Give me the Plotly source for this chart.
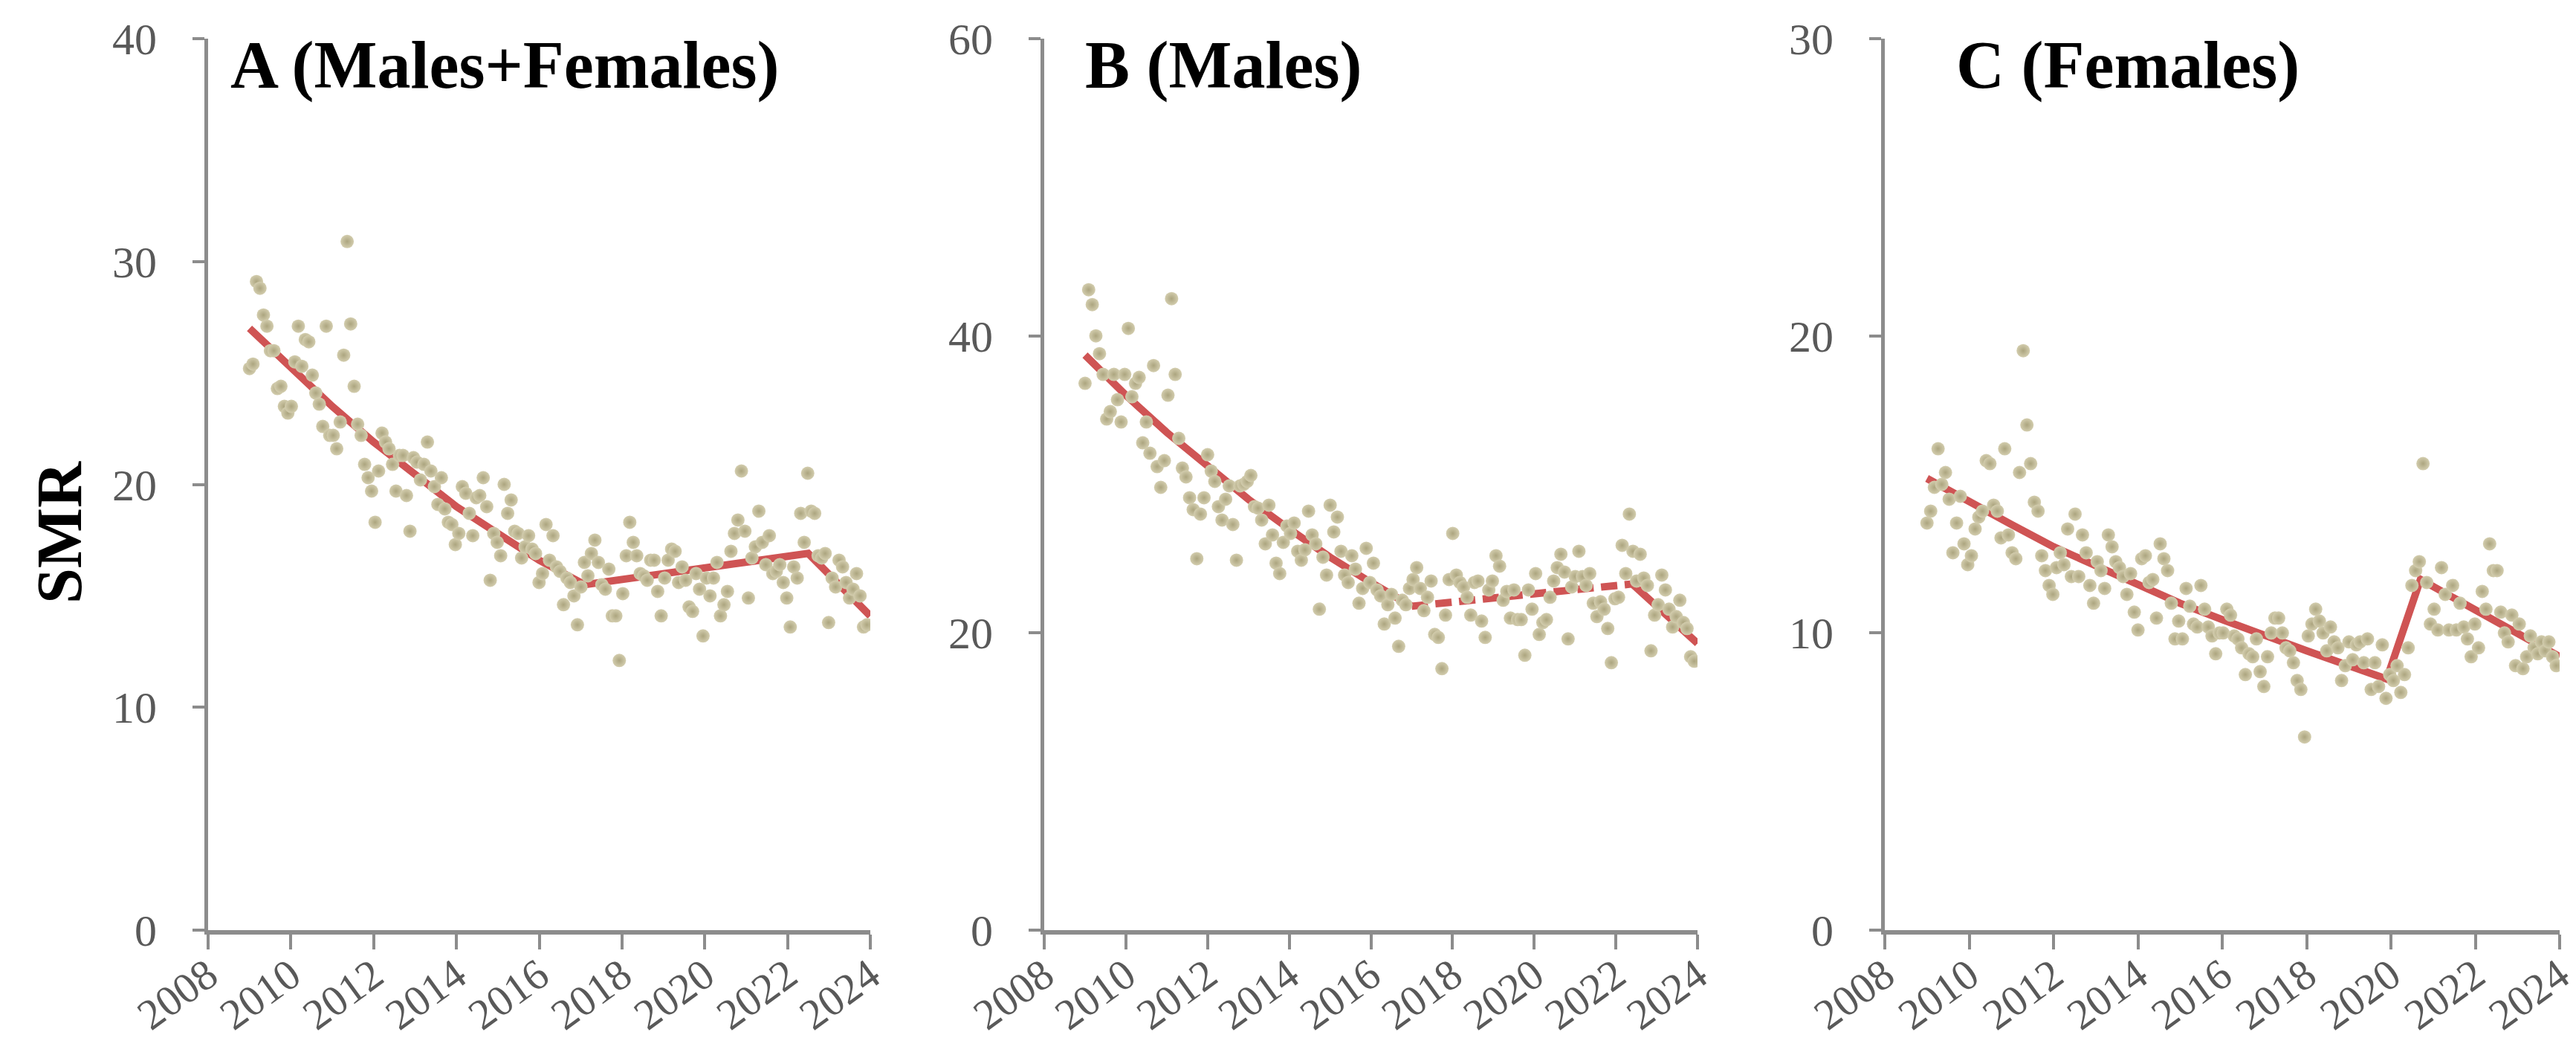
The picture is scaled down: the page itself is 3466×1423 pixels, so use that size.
import numpy as np
import plotly.graph_objects as go

# ---- data (monthly SMR, Jan 2009 - Dec 2023) ----
smr_all = [25.2, 25.4, 29.1, 28.8, 27.6, 27.1, 26.0, 26.0, 24.3, 24.4, 23.5, 23.2, 23.5,
           25.5, 27.1, 25.3, 26.5, 26.4, 24.9, 24.1, 23.6, 22.6, 27.1, 22.2, 22.2, 21.6, 22.8, 25.8,
           30.9, 27.2, 24.4, 22.7, 22.2, 20.9, 20.3, 19.7, 18.3, 20.6, 22.3, 21.9, 21.6, 20.9, 19.7,
           21.3, 21.3, 19.5, 17.9, 21.2, 21.0, 20.2, 20.9, 21.9, 20.6, 19.9, 19.1, 20.3, 18.9, 18.3,
           18.2, 17.3, 17.8, 19.9, 19.6, 18.7, 17.7, 19.4, 19.5, 20.3, 19.0,
           15.7, 17.8, 17.4, 16.8, 20.0, 18.7, 19.3, 17.9, 17.8, 16.7, 17.2, 17.7, 17.1, 16.9, 15.6,
           16.0, 18.2, 16.6, 17.7, 16.3, 16.1, 14.6, 15.8, 15.6, 15.0, 13.7, 15.4, 16.5, 15.9, 16.9,
           17.5, 16.5, 15.5, 15.3, 16.2, 14.1, 14.1,
           12.1, 15.1, 16.8, 18.3, 17.4, 16.8, 16.0, 15.9, 15.7, 16.6, 16.6, 15.2, 14.1, 15.8, 16.6,
           17.1, 17.0, 15.6, 16.3, 15.7, 14.5, 14.3, 16.0, 15.3, 13.2, 15.8, 15.0, 15.8, 16.5, 14.1,
           14.6, 15.2, 17.0, 17.8, 18.4, 20.6, 17.9, 14.9, 16.7, 17.2, 18.8, 17.4, 16.4, 17.7, 16.0,
           16.1, 16.4, 15.6, 14.9, 13.6, 16.3, 15.8, 18.7, 17.4, 20.5, 18.8, 18.7, 16.8, 16.7, 16.9,
           13.8, 15.8, 15.4, 16.6, 16.3, 15.6, 14.9, 15.3, 16.0, 15.0, 13.6, 13.7]

smr_males = [36.8, 43.1, 42.1, 40.0, 38.8, 37.4, 34.4, 34.9, 37.4, 35.7, 34.2, 37.4, 40.5, 35.9,
             36.8, 37.2, 32.8, 34.2, 32.1, 38.0, 31.2, 29.8, 31.6, 36.0, 42.5, 37.4, 33.1, 31.1,
             30.5, 29.1, 28.3, 25.0, 28.0, 29.1, 32.0, 30.9, 30.2, 28.5, 27.6, 29.0, 29.9, 27.3,
             24.9, 29.9, 30.0, 30.2, 30.6, 28.5, 28.4, 27.6, 26.0, 28.6, 26.6, 24.7, 24.0, 26.1,
             27.2, 26.7, 27.4, 25.5, 24.9, 25.6, 28.2, 26.6, 26.0, 21.6, 25.1, 23.9, 28.6, 26.8,
             27.8, 25.5, 23.9, 23.4, 25.2, 24.3, 22.0, 23.0, 25.7, 23.4, 24.7, 22.9, 22.5, 20.6,
             21.9, 22.6, 21.0, 19.1, 22.2, 21.9, 23.0, 23.6, 24.4, 23.0, 21.5, 22.4, 23.5, 19.9,
             19.7, 17.6, 21.2, 23.6, 26.7, 23.9, 23.4, 23.1, 22.4, 21.2, 23.4, 23.5, 20.8, 19.7,
             22.9, 23.5, 25.2, 24.5, 22.2, 22.8, 21.0, 22.9, 20.9, 20.9, 18.5, 22.9, 21.6, 24.0,
             19.9, 20.7, 20.9, 22.4, 23.5, 24.4, 25.3, 24.1, 19.6, 23.1, 23.8, 25.5, 23.8, 23.2,
             24.0, 22.0, 21.1, 22.1, 21.6, 20.3, 18.0, 22.3, 22.4, 25.9, 24.0, 28.0, 25.5, 23.5,
             25.3, 23.7, 23.2, 18.8, 21.2, 21.9, 23.9, 22.9, 21.6, 20.4, 21.1, 22.2, 20.7, 20.3,
             18.4, 18.1]

smr_females = [13.7, 14.1, 14.9, 16.2, 15.0, 15.4, 14.5, 12.7, 13.7, 14.6, 13.0, 12.3, 12.6, 13.5,
               13.9, 14.1, 15.8, 15.7, 14.3, 14.1, 13.2, 16.2, 13.3, 12.7, 12.5, 15.4, 19.5, 17.0,
               15.7, 14.4, 14.1, 12.6, 12.1, 11.6, 11.3, 12.2, 12.7, 12.3, 13.5, 11.9, 14.0, 11.9,
               13.3, 12.7, 11.6, 11.0, 12.4, 12.1, 11.5, 13.3, 12.9, 12.4, 12.2, 11.9, 11.3, 12.0,
               10.7, 10.1, 12.5, 12.6, 11.7, 11.8, 10.5, 13.0, 12.5, 12.1, 11.0, 9.8, 10.4, 9.8,
               11.5, 10.9, 10.3, 10.2, 11.6, 10.8, 10.2, 9.9, 9.3, 10.0, 10.0, 10.8, 10.6, 9.9,
               9.8, 9.5, 8.6, 9.3, 9.2, 9.8, 8.7, 8.2, 9.2, 10.0, 10.5, 10.5, 10.0, 9.5, 9.4, 9.0,
               8.4, 8.1, 6.5, 9.9, 10.3, 10.8, 10.4, 10.0, 9.4, 10.2, 9.7, 9.5, 8.4, 8.9, 9.7, 9.1,
               9.6, 9.7, 9.0, 9.8, 8.1, 9.0, 8.2, 9.6, 7.8, 8.6, 8.4, 8.9, 8.0, 8.6, 9.5, 11.6,
               12.1, 12.4, 15.7, 11.7, 10.3, 10.8, 10.1, 12.2, 11.3, 10.1, 11.6, 10.1, 11.0, 10.2,
               9.8, 9.2, 10.3, 9.5, 11.4, 10.8, 13.0, 12.1, 12.1, 10.7, 10.0, 9.7, 10.6, 8.9, 10.3,
               8.8, 9.2, 9.9, 9.5, 9.3, 9.7, 9.4, 9.7, 9.2, 8.9]

# joinpoint trend lines (year, fitted SMR) read at a few points
trend_all_x = [2009.0, 2010, 2011, 2012, 2013, 2014, 2015, 2016, 2017.1, 2022.5, 2024.0]
trend_all_y = [27.0, 25.2, 23.5, 21.9, 20.4, 19.0, 17.8, 16.6, 15.5, 16.9, 14.1]

trend_m_x1 = [2009.0, 2010, 2011, 2012, 2013, 2014, 2015, 2016, 2017.0]
trend_m_y1 = [38.7, 36.0, 33.5, 31.2, 29.0, 27.0, 25.1, 23.4, 21.8]
trend_m_x2 = [2017.0, 2022.4]          # dashed segment
trend_m_y2 = [21.8, 23.3]
trend_m_x3 = [2022.4, 2024.0]
trend_m_y3 = [23.3, 19.3]

trend_f_x = [2009.0, 2010, 2011, 2012, 2013, 2014, 2015, 2016, 2017, 2018, 2019, 2019.9, 2020.7, 2024.0]
trend_f_y = [15.2, 14.4, 13.65, 12.9, 12.25, 11.6, 11.0, 10.45, 9.9, 9.4, 8.9, 8.45, 11.8, 9.2]

panel_titles = ["A (Males+Females)", "B (Males)", "C (Females)"]
y_ranges = [[0, 40], [0, 60], [0, 30]]
y_dticks = [10, 20, 10]
year_ticks = list(range(2008, 2025, 2))


def month_positions(n):
    # points run monthly from Jan 2009 to Dec 2023
    return np.linspace(2009.0, 2023.92, n)


W, H = 3466, 1423
AXIS_GREY = '#8C8C8C'
TICK_GREY = '#595959'
LINE_RED = '#CF5454'
SERIF = 'Liberation Serif, Times New Roman, serif'

x_domains = [[272 / W, 1163 / W], [1397 / W, 2276 / W], [2528 / W, 3436 / W]]
y_domain = [1 - 1243 / H, 1 - 44 / H]

fig = go.Figure()

marker_style = dict(size=18, color='#D3CDAE',
                    gradient=dict(type='radial', color='#ACA57F'),
                    line=dict(width=0))


def add_line(x, y, ax, dash='solid'):
    fig.add_trace(go.Scatter(x=x, y=y, mode='lines', xaxis=ax[0], yaxis=ax[1],
                             line=dict(color=LINE_RED, width=10, dash=dash),
                             showlegend=False, hoverinfo='skip'))


def add_points(vals, ax):
    fig.add_trace(go.Scatter(x=month_positions(len(vals)), y=vals, mode='markers',
                             xaxis=ax[0], yaxis=ax[1], marker=marker_style,
                             showlegend=False))


axes = [('x', 'y'), ('x2', 'y2'), ('x3', 'y3')]

add_line(trend_all_x, trend_all_y, axes[0])
add_points(smr_all, axes[0])

add_line(trend_m_x1, trend_m_y1, axes[1])
add_line(trend_m_x2, trend_m_y2, axes[1], dash='22px,10px')
add_line(trend_m_x3, trend_m_y3, axes[1])
add_points(smr_males, axes[1])

add_line(trend_f_x, trend_f_y, axes[2])
add_points(smr_females, axes[2])

layout = dict(
    width=W, height=H,
    margin=dict(l=0, r=0, t=0, b=0),
    paper_bgcolor='white', plot_bgcolor='white',
    showlegend=False,
)

for i in range(3):
    sfx = '' if i == 0 else str(i + 1)
    layout['xaxis' + sfx] = dict(
        domain=x_domains[i], anchor='y' + sfx, range=[2008, 2024], automargin=False,
        tickvals=year_ticks, ticktext=[str(t) for t in year_ticks],
        tickangle=-36, ticks='outside', ticklen=20, tickwidth=4, tickcolor=AXIS_GREY,
        showline=True, linecolor=AXIS_GREY, linewidth=6,
        showgrid=False, zeroline=False, ticklabelstandoff=-22,
        tickfont=dict(family=SERIF, size=58, color=TICK_GREY),
    )
    layout['yaxis' + sfx] = dict(
        domain=y_domain, anchor='x' + sfx, range=y_ranges[i], dtick=y_dticks[i],
        automargin=False,
        ticks='outside', ticklen=16, tickwidth=4, tickcolor=AXIS_GREY,
        showline=True, linecolor=AXIS_GREY, linewidth=5,
        showgrid=False, zeroline=False, ticklabelstandoff=36,
        tickfont=dict(family=SERIF, size=60, color=TICK_GREY),
    )

title_x = [300 / W, 1450 / W, 2622 / W]
annotations = []
for i, t in enumerate(panel_titles):
    annotations.append(dict(
        text='<b>%s</b>' % t, xref='paper', yref='paper',
        x=title_x[i], y=1 - 80 / H, xanchor='left', yanchor='middle',
        showarrow=False, font=dict(family=SERIF, size=90, color='black'),
    ))
annotations.append(dict(
    text='<b>SMR</b>', xref='paper', yref='paper', x=72 / W, y=1 - 708 / H,
    xanchor='center', yanchor='middle', textangle=-90, showarrow=False,
    font=dict(family=SERIF, size=86, color='black'),
))
layout['annotations'] = annotations

fig.update_layout(**layout)
fig.write_html("out.html")
